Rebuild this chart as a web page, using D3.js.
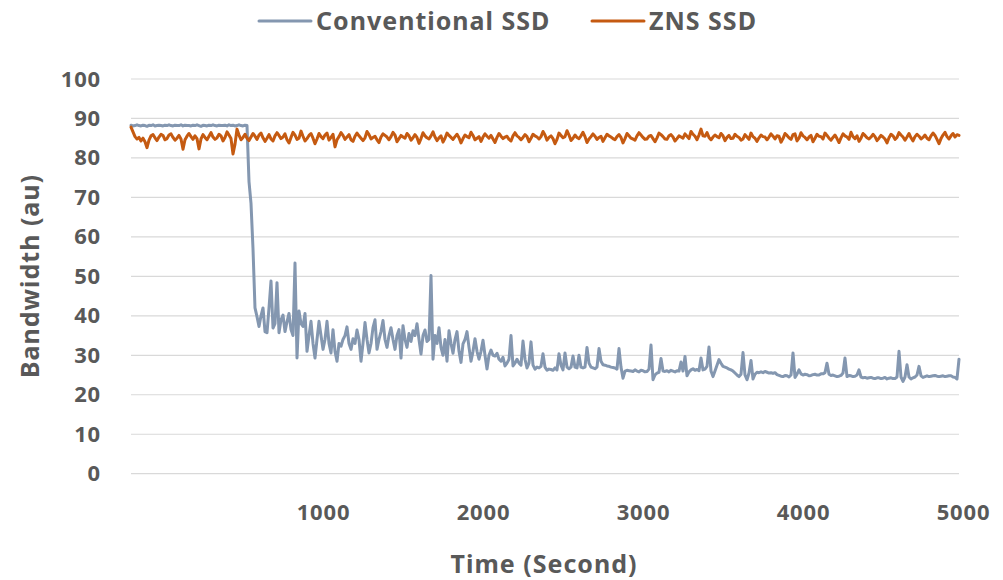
<!DOCTYPE html>
<html>
<head>
<meta charset="utf-8">
<script src="https://cdn.jsdelivr.net/npm/d3@7"></script>
<style>
  html, body { margin: 0; padding: 0; background: #fff; }
  #chart { width: 1003px; height: 580px; }
  text { font-family: "Noto Sans", "Open Sans", sans-serif; font-weight: bold; fill: #595959; }
</style>
</head>
<body>
<div id="chart"></div>
<script>
// Sampling: one reading every 12.5 s, first sample at -200 s
const timeStart = -200;
const timeStep = 12.5;

const seriesNames = ['Conventional SSD', 'ZNS SSD'];

// Conventional SSD bandwidth (au)
const conventional = [
  88.3, 88.1, 88.2, 88.4, 88.2, 88.1, 88.3, 88.2, 88.0, 88.3,
  88.2, 88.4, 88.1, 88.2, 88.3, 88.2, 88.1, 88.3, 88.2, 88.4,
  88.2, 88.1, 88.3, 88.2, 88.2, 88.4, 88.1, 88.3, 88.2, 88.2,
  88.1, 88.3, 88.2, 88.4, 88.2, 88.0, 88.3, 88.2, 88.1, 88.3,
  88.2, 88.4, 88.2, 88.1, 88.3, 88.2, 88.2, 88.3, 88.1, 88.4,
  88.2, 88.3, 88.1, 88.2, 88.4, 88.2, 88.1, 88.3, 88.2, 74.0,
  68.5, 57.0, 42.0, 39.8, 37.3, 40.0, 42.0, 36.0, 35.7, 42.0,
  48.8, 36.9, 38.0, 48.4, 35.7, 39.0, 40.2, 36.0, 38.5, 40.6,
  36.5, 35.0, 53.4, 29.3, 41.2, 38.0, 37.3, 40.6, 31.0, 35.0,
  38.6, 33.0, 29.3, 34.0, 38.6, 35.0, 31.5, 34.0, 38.6, 33.0,
  30.6, 36.5, 31.0, 28.5, 33.0, 32.3, 34.0, 35.0, 37.2, 33.0,
  31.5, 34.2, 33.0, 36.4, 34.0, 28.5, 33.0, 38.3, 34.0, 30.6,
  33.0, 37.0, 39.0, 31.5, 34.0, 36.0, 38.8, 34.0, 32.0, 35.0,
  37.0, 34.0, 31.5, 35.0, 36.5, 29.3, 37.5, 34.0, 32.0, 35.5,
  33.5, 36.2, 35.0, 38.0, 34.0, 30.3, 35.0, 36.4, 33.5, 34.0,
  50.2, 29.0, 35.0, 33.0, 37.0, 32.0, 30.0, 34.0, 28.5, 36.2,
  33.0, 30.5, 34.0, 36.0, 31.0, 28.2, 32.9, 34.0, 36.0, 32.0,
  28.5, 31.0, 34.2, 31.0, 29.0, 31.0, 33.8, 30.0, 26.5, 30.0,
  31.3, 30.0, 29.8, 30.5, 29.0, 28.5, 29.5, 27.3, 28.0, 29.0,
  35.0, 27.3, 28.0, 29.0, 28.0, 27.5, 33.6, 29.0, 26.8, 28.0,
  33.4, 27.5, 26.5, 27.0, 26.8, 27.2, 30.4, 27.0, 26.2, 26.5,
  26.4, 26.2, 26.8, 26.3, 30.4, 27.5, 26.3, 30.6, 27.0, 26.6,
  27.0, 29.8, 27.0, 26.8, 30.0, 27.0, 26.8, 27.0, 32.0, 28.0,
  27.0, 26.8, 26.6, 27.0, 31.7, 28.5, 27.6, 27.5, 27.3, 27.2,
  27.0, 26.9, 26.8, 26.5, 31.7, 27.0, 24.2, 26.0, 26.2, 26.1,
  26.0, 25.9, 26.3, 26.0, 25.8, 26.2, 26.1, 25.8, 25.9, 26.5,
  32.6, 23.8, 25.0, 25.5, 25.7, 29.2, 26.0, 25.9, 26.1, 25.8,
  26.2, 26.0, 25.8, 26.1, 26.0, 28.3, 26.0, 29.7, 24.8, 25.8,
  26.3, 26.6, 26.2, 26.4, 26.1, 29.3, 26.3, 26.5, 27.2, 32.1,
  26.0, 24.6, 26.0, 27.5, 28.9, 28.0, 27.2, 27.0, 26.8, 26.5,
  26.3, 26.0, 25.5, 25.0, 24.6, 25.2, 30.7, 25.0, 23.8, 25.5,
  28.7, 24.0, 25.2, 25.7, 25.6, 25.8, 25.6, 25.9, 25.7, 25.5,
  25.6, 25.4, 25.6, 25.1, 24.9, 24.7, 24.6, 24.9, 24.8, 24.5,
  25.0, 30.6, 24.4, 25.2, 26.3, 25.3, 25.0, 25.2, 25.1, 24.8,
  24.9, 25.1, 25.2, 25.0, 25.0, 25.3, 25.3, 25.6, 28.0, 25.2,
  24.9, 25.0, 24.8, 24.6, 24.7, 24.9, 25.5, 29.3, 24.6, 24.9,
  24.8, 24.6, 24.7, 25.0, 26.3, 24.5, 24.3, 24.4, 24.2, 24.3,
  24.4, 24.2, 24.1, 24.3, 24.3, 24.1, 24.2, 24.4, 24.0, 24.2,
  24.3, 24.1, 24.1, 24.5, 31.0, 24.5, 23.4, 24.5, 27.6, 24.5,
  24.0, 24.3, 24.5, 25.0, 27.2, 24.8, 24.4, 24.6, 24.8, 24.6,
  24.7, 24.8, 24.9, 24.7, 24.6, 24.7, 24.8, 24.6, 24.7, 24.8,
  24.8, 24.5, 24.4, 24.0, 29.0
];

// ZNS SSD bandwidth (au)
const zns = [
  87.8, 86.6, 85.4, 84.8, 85.2, 84.3, 85.0, 84.1, 82.6, 84.5,
  85.6, 85.9, 85.1, 84.4, 85.3, 86.0, 85.7, 84.6, 84.9, 85.8,
  86.1, 85.2, 84.5, 85.0, 85.7, 84.8, 82.2, 84.6, 85.5, 86.2,
  85.4, 84.7, 85.6, 84.9, 82.3, 84.8, 85.9, 85.2, 84.6, 85.5,
  86.4, 85.3, 84.7, 85.1, 86.0, 85.6, 84.3, 85.2, 86.6, 85.8,
  84.9, 81.0, 83.5, 87.3, 85.8, 84.6, 85.2, 86.0, 85.0, 84.4,
  85.3, 86.2, 85.5, 84.7, 85.8, 86.3, 85.1, 84.2, 85.0, 85.9,
  84.8, 84.3, 85.6, 86.4, 85.7, 84.9, 85.3, 86.1, 84.6, 83.8,
  85.2, 86.5, 85.8, 84.7, 85.0, 86.8, 85.5, 84.3, 84.9, 85.7,
  86.2, 85.0, 83.6, 84.8, 86.2, 85.4, 84.9, 85.8, 86.3, 84.5,
  85.2, 86.0, 82.8, 84.6, 85.4, 86.4, 85.7, 84.7, 85.3, 85.9,
  84.6, 84.2, 85.5, 86.3, 85.6, 85.0, 84.4, 85.1, 86.7, 85.9,
  84.8, 85.2, 85.5, 84.6, 83.9, 85.3, 86.1, 85.7, 85.3, 84.6,
  85.4, 86.5, 85.8, 84.1, 84.9, 85.7, 85.3, 85.0, 86.2, 85.6,
  84.5, 85.1, 85.9, 85.2, 83.7, 84.9, 86.4, 85.6, 85.1, 84.8,
  85.6, 86.6, 85.3, 84.4, 85.1, 85.6, 84.0, 85.0, 86.3, 85.7,
  85.2, 84.7, 85.4, 86.0, 85.1, 83.8, 84.9, 85.8, 85.4, 85.1,
  86.5, 85.7, 84.6, 85.0, 85.4, 84.2, 85.3, 86.1, 85.5, 85.0,
  85.7, 84.8, 83.9, 85.2, 86.2, 85.5, 84.9, 85.3, 85.5, 84.7,
  84.3, 85.6, 86.4, 85.6, 85.2, 84.6, 85.2, 85.9, 85.4, 84.1,
  85.0, 86.0, 85.6, 85.3, 84.8, 85.4, 86.7, 85.8, 84.5, 85.2,
  85.6, 84.9, 83.6, 84.7, 86.3, 85.7, 85.1, 85.4, 86.9, 85.8,
  84.4, 85.0, 85.8, 85.2, 84.9, 85.6, 86.5, 85.4, 83.9, 84.8,
  85.4, 86.1, 85.5, 84.7, 85.2, 85.5, 84.2, 85.1, 86.0, 85.6,
  85.3, 84.9, 84.6, 85.4, 85.9, 85.2, 83.8, 84.9, 86.2, 85.6,
  85.0, 84.8, 84.5, 85.6, 86.4, 85.8, 85.2, 84.7, 84.8, 85.5,
  85.7, 84.9, 84.1, 85.1, 86.3, 85.9, 85.4, 84.8, 84.7, 85.6,
  85.9, 85.3, 84.3, 84.9, 85.6, 85.3, 85.0, 86.1, 85.5, 84.9,
  86.7, 86.0, 85.5, 84.6, 85.8, 87.3, 85.6, 85.5, 86.4, 85.2,
  84.6, 85.3, 85.8, 85.4, 85.1, 86.2, 85.6, 84.4, 85.2, 85.7,
  84.9, 85.0, 86.0, 85.5, 85.2, 84.5, 84.8, 85.9, 85.3, 84.7,
  86.3, 85.4, 85.0, 84.2, 85.1, 85.8, 85.4, 85.3, 84.6, 85.3,
  86.1, 85.5, 84.8, 85.6, 85.5, 84.0, 84.9, 86.2, 85.7, 85.1,
  84.7, 85.9, 86.1, 84.3, 85.0, 86.4, 85.6, 85.2, 84.6, 85.3,
  85.7, 84.1, 85.0, 86.0, 85.5, 85.4, 84.8, 86.3, 85.7, 85.0,
  84.5, 85.2, 85.8, 84.9, 83.9, 85.1, 86.1, 85.6, 85.3, 84.7,
  86.5, 85.4, 84.9, 85.6, 84.2, 85.0, 86.2, 85.7, 85.1, 84.8,
  85.3, 86.0, 85.4, 84.4, 85.0, 85.7, 85.3, 84.8, 83.8, 85.1,
  86.0, 85.6, 84.7, 85.2, 86.4, 85.8, 85.3, 84.5, 85.3, 86.2,
  85.1, 84.3, 85.4, 86.0, 85.5, 84.8, 85.2, 85.8, 85.0, 84.6,
  85.6, 86.3, 85.7, 84.7, 83.6, 84.9, 85.8, 86.5, 85.4, 84.8,
  85.6, 86.2, 85.3, 85.9, 85.7
];

const xTicks = [1000, 2000, 3000, 4000, 5000];
const yTicks = [0, 10, 20, 30, 40, 50, 60, 70, 80, 90, 100];
const colors = ['#8497B0', '#C55A11'];

const width = 1003;
const height = 580;
const plot = { left: 131, right: 959, top: 79, bottom: 473.7 };

const svg = d3.select('#chart')
  .append('svg')
  .attr('width', width)
  .attr('height', height);

const x = d3.scaleLinear()
  .domain([timeStart, timeStart + timeStep * (conventional.length - 1)])
  .range([plot.left, plot.right]);

const y = d3.scaleLinear()
  .domain([0, 100])
  .range([plot.bottom, plot.top]);

// Horizontal gridlines
svg.append('g')
  .selectAll('line')
  .data(yTicks)
  .enter().append('line')
  .attr('x1', plot.left)
  .attr('x2', plot.right)
  .attr('y1', d => y(d))
  .attr('y2', d => y(d))
  .attr('stroke', '#D9D9D9')
  .attr('stroke-width', 1.2);

// Axis tick labels
function styleTicks(g) {
  g.select('.domain').remove();
  g.selectAll('text')
    .attr('font-size', 22)
    .attr('fill', '#595959')
    .style('font-family', '"Noto Sans", sans-serif')
    .style('font-weight', 'bold')
    .style('letter-spacing', '0.8px');
}

svg.append('g')
  .attr('transform', `translate(${plot.left - 30},0)`)
  .call(d3.axisLeft(y).tickValues(yTicks).tickSize(0).tickPadding(0))
  .call(styleTicks);

svg.append('g')
  .attr('transform', `translate(0,${plot.bottom + 31})`)
  .call(d3.axisBottom(x).tickValues(xTicks).tickFormat(d3.format('d')).tickSize(0).tickPadding(0))
  .call(styleTicks);

// Lines (ZNS drawn last, on top)
const line = d3.line()
  .x((d, i) => x(timeStart + i * timeStep))
  .y(d => y(d));

[conventional, zns].forEach((values, k) => {
  svg.append('path')
    .datum(values)
    .attr('fill', 'none')
    .attr('stroke', colors[k])
    .attr('stroke-width', 3)
    .attr('stroke-linejoin', 'round')
    .attr('stroke-linecap', 'round')
    .attr('d', line);
});

// Axis titles
svg.append('text')
  .attr('x', 544)
  .attr('y', 573)
  .attr('text-anchor', 'middle')
  .attr('font-size', 25)
  .style('letter-spacing', '1px')
  .text('Time (Second)');

svg.append('text')
  .attr('transform', 'translate(39,276) rotate(-90)')
  .attr('text-anchor', 'middle')
  .attr('font-size', 25)
  .style('letter-spacing', '1px')
  .text('Bandwidth (au)');

// Legend
const legendItems = [
  { name: seriesNames[0], color: colors[0], x: 259 },
  { name: seriesNames[1], color: colors[1], x: 592 }
];
const legend = svg.append('g');
legendItems.forEach(item => {
  legend.append('line')
    .attr('x1', item.x)
    .attr('x2', item.x + 52)
    .attr('y1', 21)
    .attr('y2', 21)
    .attr('stroke', item.color)
    .attr('stroke-width', 3)
    .attr('stroke-linecap', 'round');
  legend.append('text')
    .attr('x', item.x + 57)
    .attr('y', 30)
    .attr('font-size', 25)
    .style('letter-spacing', '1px')
    .text(item.name);
});
</script>
</body>
</html>
